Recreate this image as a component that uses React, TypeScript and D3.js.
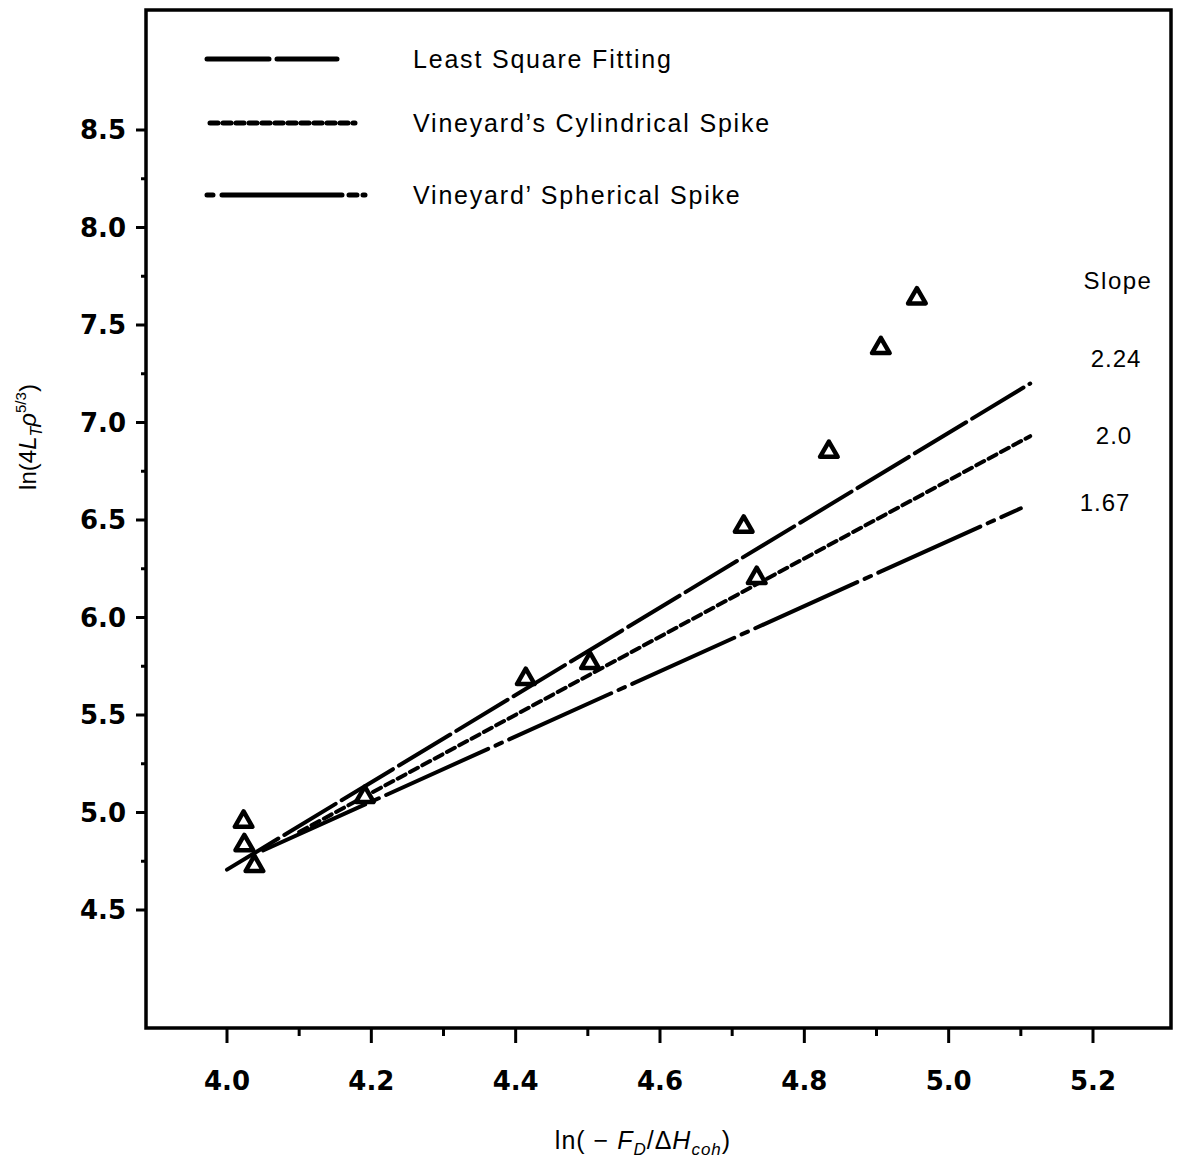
import React from "react";
import * as d3 from "d3";

// ---- data ----
const pointsX = [4.956, 4.906, 4.834, 4.716, 4.734, 4.503, 4.414, 4.191, 4.023, 4.024, 4.038];
const pointsY = [7.637, 7.382, 6.850, 6.466, 6.203, 5.767, 5.685, 5.080, 4.953, 4.833, 4.726];

const lsqLine = [[4.0, 4.707], [5.113, 7.2]];
const cylLine = [[4.1, 4.9], [5.113, 6.93]];
const sphLine = [[4.05, 4.805], [5.1, 6.56]];

const xTicks = [4.0, 4.2, 4.4, 4.6, 4.8, 5.0, 5.2];
const xMinor = [4.1, 4.3, 4.5, 4.7, 4.9, 5.1];
const yTicks = [4.5, 5.0, 5.5, 6.0, 6.5, 7.0, 7.5, 8.0, 8.5];
const yMinor = [4.75, 5.25, 5.75, 6.25, 6.75, 7.25, 7.75, 8.25];

const legendLabels = ["Least Square Fitting", "Vineyard\u2019s Cylindrical Spike", "Vineyard\u2019 Spherical Spike"];
const slopeLabels = ["2.24", "2.0", "1.67"];

// ---- layout ----
const W = 1178, H = 1161;
const frame = { left: 146, right: 1171, top: 10, bottom: 1028 };

export default function App() {
  const x = d3.scaleLinear().domain([4.0, 5.2]).range([227, 1093]);
  const y = d3.scaleLinear().domain([4.5, 8.5]).range([910, 130]);
  const line = d3.line<number[]>().x((d) => x(d[0])).y((d) => y(d[1]));

  const dashes = ["60 7", "9 5", "112 8 7 8"];
  const lines = [lsqLine, cylLine, sphLine];

  const tri = d3.symbol().type(d3.symbolTriangle).size(135);
  const tickFont = "'DejaVu Sans', sans-serif";
  const textFont = "'Liberation Sans', Arial, sans-serif";

  const legendY = [59, 123, 195];
  const legendX = [
    [207, 337],
    [210, 355],
    [207, 365],
  ];
  const legendDash = ["62 8", "8 5", "6 9 120 7 8"];
  const slopePos = [
    [1116, 358],
    [1114, 435],
    [1105, 502],
  ];

  return (
    <svg width={W} height={H} style={{ position: "absolute", left: 0, top: 0, background: "#fff" }}>
      <rect x={0} y={0} width={W} height={H} fill="#fff" />
      {/* frame */}
      <rect
        x={frame.left}
        y={frame.top}
        width={frame.right - frame.left}
        height={frame.bottom - frame.top}
        fill="none"
        stroke="#000"
        strokeWidth={3.5}
      />
      {/* y ticks */}
      {yTicks.map((t) => (
        <g key={"yt" + t}>
          <line x1={frame.left - 10} x2={frame.left} y1={y(t)} y2={y(t)} stroke="#000" strokeWidth={3} />
          <text
            x={126}
            y={y(t)}
            textAnchor="end"
            dominantBaseline="central"
            fontFamily={tickFont}
            fontWeight="bold"
            fontSize={26}
          >
            {t.toFixed(1)}
          </text>
        </g>
      ))}
      {yMinor.map((t) => (
        <line key={"ym" + t} x1={frame.left - 5} x2={frame.left} y1={y(t)} y2={y(t)} stroke="#000" strokeWidth={3} />
      ))}
      {/* x ticks */}
      {xTicks.map((t) => (
        <g key={"xt" + t}>
          <line x1={x(t)} x2={x(t)} y1={frame.bottom} y2={frame.bottom + 15} stroke="#000" strokeWidth={3} />
          <text
            x={x(t)}
            y={1081}
            textAnchor="middle"
            dominantBaseline="central"
            fontFamily={tickFont}
            fontWeight="bold"
            fontSize={26}
          >
            {t.toFixed(1)}
          </text>
        </g>
      ))}
      {xMinor.map((t) => (
        <line key={"xm" + t} x1={x(t)} x2={x(t)} y1={frame.bottom} y2={frame.bottom + 8} stroke="#000" strokeWidth={3} />
      ))}

      {/* fit lines */}
      {lines.map((l, i) => (
        <path
          key={"l" + i}
          d={line(l) || ""}
          fill="none"
          stroke="#000"
          strokeWidth={4}
          strokeDasharray={dashes[i]}
          strokeLinecap="round"
        />
      ))}

      {/* points */}
      {pointsX.map((px, i) => (
        <path
          key={"p" + i}
          d={tri() || ""}
          transform={`translate(${x(px)},${y(pointsY[i])})`}
          fill="#fff"
          stroke="#000"
          strokeWidth={4.5}
          strokeLinejoin="round"
        />
      ))}

      {/* legend */}
      {legendLabels.map((lab, i) => (
        <g key={"lg" + i}>
          <line
            x1={legendX[i][0]}
            x2={legendX[i][1]}
            y1={legendY[i]}
            y2={legendY[i]}
            stroke="#000"
            strokeWidth={5}
            strokeDasharray={legendDash[i]}
            strokeLinecap="round"
          />
          <text
            x={413}
            y={legendY[i]}
            dominantBaseline="central"
            fontFamily={textFont}
            fontSize={25}
            letterSpacing={1.8}
          >
            {lab}
          </text>
        </g>
      ))}

      {/* slope labels */}
      <text
        x={1118}
        y={280}
        textAnchor="middle"
        dominantBaseline="central"
        fontFamily={textFont}
        fontSize={24}
        letterSpacing={1.5}
      >
        Slope
      </text>
      {slopeLabels.map((s, i) => (
        <text
          key={"s" + i}
          x={slopePos[i][0]}
          y={slopePos[i][1]}
          textAnchor="middle"
          dominantBaseline="central"
          fontFamily={textFont}
          fontSize={24}
          letterSpacing={1}
        >
          {s}
        </text>
      ))}

      {/* y title */}
      <text
        transform="translate(36,437) rotate(-90)"
        textAnchor="middle"
        fontFamily={textFont}
        fontSize={24}
      >
        ln(4
        <tspan fontStyle="italic">L</tspan>
        <tspan fontStyle="italic" fontSize={16} dy={6}>T</tspan>
        <tspan fontStyle="italic" dy={-6}>ρ</tspan>
        <tspan fontSize={15} dy={-10}>5/3</tspan>
        <tspan dy={10}>)</tspan>
      </text>

      {/* x title */}
      <text x={643} y={1149} textAnchor="middle" fontFamily={textFont} fontSize={25} letterSpacing={1}>
        ln(  −  <tspan fontStyle="italic">F</tspan>
        <tspan fontStyle="italic" fontSize={17} dy={6}>D</tspan>
        <tspan dy={-6}>/Δ</tspan>
        <tspan fontStyle="italic">H</tspan>
        <tspan fontStyle="italic" fontSize={17} dy={6}>coh</tspan>
        <tspan dy={-6}>)</tspan>
      </text>
    </svg>
  );
}
